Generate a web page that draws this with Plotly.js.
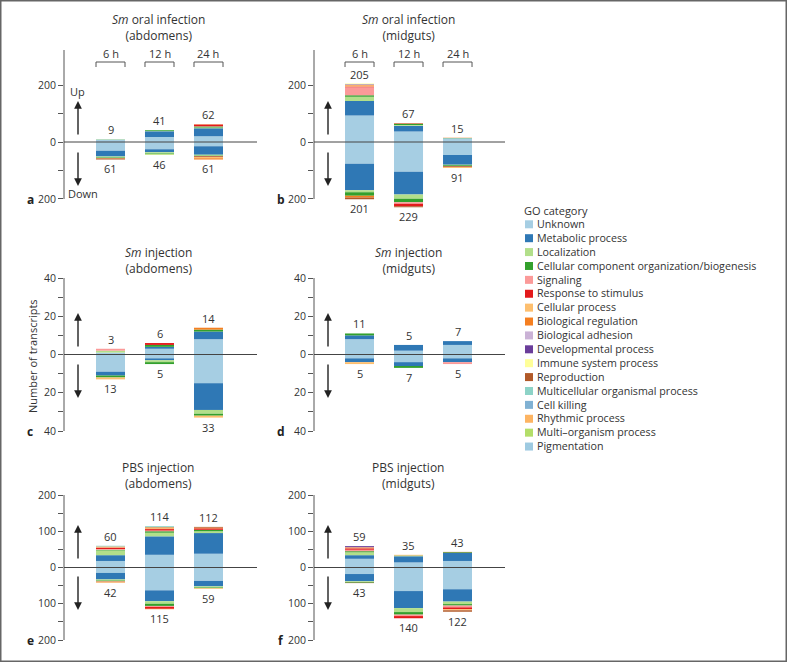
<!DOCTYPE html>
<html><head><meta charset="utf-8">
<script src="https://cdn.plot.ly/plotly-3.0.1.min.js"></script>
<style>html,body{margin:0;padding:0;background:#fff}#chart{width:787px;height:662px}</style>
</head><body><div id="chart"></div>
<script>
const times = ['6 h', '12 h', '24 h'];
const categories = ['Unknown', 'Metabolic process', 'Localization', 'Cellular component organization/biogenesis',
  'Signaling', 'Response to stimulus', 'Cellular process', 'Biological regulation', 'Biological adhesion',
  'Developmental process', 'Immune system process', 'Reproduction', 'Multicellular organismal process',
  'Cell killing', 'Rhythmic process', 'Multi\u2013organism process', 'Pigmentation'];
const colors = ['#a6cee3', '#2f78b5', '#b2df8a', '#33a02c', '#fb9a99', '#e31a1c', '#fdbf6f', '#f57f20',
  '#cab2d6', '#6a3d9a', '#ffff99', '#b15928', '#8dd3c7', '#80b1d3', '#fdb462', '#b3de69', '#9ecae1'];
const Z = [0, 0, 0];

// rows follow the category order; columns are 6 h, 12 h, 24 h
const aUp = [[8,18,20],[0,20,28],[0,1,3],[1,2,3],[0,0,1],[0,0,6],Z,[0,0,1],Z,Z,Z,Z,Z,Z,Z,Z,Z];
const aDown = [[31,25,15],[20,11,30],[3,4,3],[2,3,3],Z,[0,0,2],[0,0,4],[2,0,4],Z,Z,[0,1,0],[3,0,0],Z,Z,Z,[0,2,0],Z];
const bUp = [[93,37,13],[51,20,0],[15,3,0],[5,3,1],[28,0,0],[3,1,0],[3,1,0],[2,0,1],[1,0,0],[2,0,0],[2,0,0],[0,2,0],Z,Z,Z,Z,Z];
const bDown = [[76,104,46],[93,80,34],[7,15,2],[13,12,4],[0,6,0],[0,8,2],[0,0,3],[6,0,0],Z,Z,Z,[6,4,0],Z,Z,Z,Z,Z];
const cUp = [[1,3,8],[0,1,4],[1,0,0],[0,1,1],[1,0,0],[0,1,0],Z,[0,0,1],Z,Z,Z,Z,Z,Z,Z,Z,Z];
const cDown = [[9,2,15],[2,1,14],[0,1,2],[1,1,1],Z,Z,[1,0,1],Z,Z,Z,Z,Z,Z,Z,Z,Z,Z];
const dUp = [[8,2,5],[2,3,2],Z,[1,0,0],Z,Z,Z,Z,Z,Z,Z,Z,Z,Z,Z,Z,Z];
const dDown = [[2,4,2],[2,2,2],Z,[0,1,0],[0,0,1],Z,[1,0,0],Z,Z,Z,Z,Z,Z,Z,Z,Z,Z];
const eUp = [[18,35,38],[16,51,57],[13,10,5],[2,4,4],[2,2,0],[4,4,4],[2,2,0],[1,3,2],Z,Z,Z,[0,0,2],[2,3,0],Z,Z,Z,Z];
const eDown = [[15,63,37],[18,30,15],[3,7,3],[2,6,2],[0,3,0],[1,5,0],[2,0,2],[1,1,0],Z,Z,Z,Z,Z,Z,Z,Z,Z];
const fUp = [[24,14,18],[10,17,22],[8,1,0],[3,1,2],[4,0,0],[4,0,0],[2,2,0],[1,0,0],Z,[3,0,0],Z,[0,0,1],Z,Z,Z,Z,Z];
const fDown = [[18,65,60],[20,47,34],[2,11,7],[2,7,4],[0,4,5],[0,6,5],[0,0,3],Z,Z,Z,Z,[1,0,4],Z,Z,Z,Z,Z];

const aUpTotal = [9, 41, 62],    aDownTotal = [61, 46, 61];
const bUpTotal = [205, 67, 15],  bDownTotal = [201, 229, 91];
const cUpTotal = [3, 6, 14],     cDownTotal = [13, 5, 33];
const dUpTotal = [11, 5, 7],     dDownTotal = [5, 7, 5];
const eUpTotal = [60, 114, 112], eDownTotal = [42, 115, 59];
const fUpTotal = [59, 35, 43],   fDownTotal = [43, 140, 122];

const panelTitles = [['<i>Sm</i> oral infection', '(abdomens)'], ['<i>Sm</i> oral infection', '(midguts)'],
  ['<i>Sm</i> injection', '(abdomens)'], ['<i>Sm</i> injection', '(midguts)'],
  ['PBS injection', '(abdomens)'], ['PBS injection', '(midguts)']];
const panelLetters = ['a', 'b', 'c', 'd', 'e', 'f'];
const tickSets = [
  {vals: [-200, -100, 0, 100, 200], text: ['200', '', '0', '', '200'], lineFrom: -200, lineTo: 323},
  {vals: [-40, -30, -20, -10, 0, 10, 20, 30, 40], text: ['40', '', '20', '', '0', '', '20', '', '40'], lineFrom: -40, lineTo: 40},
  {vals: [-200, -150, -100, -50, 0, 50, 100, 150, 200], text: ['200', '', '100', '', '0', '', '100', '', '200'], lineFrom: -200, lineTo: 200}
];

// ---------- geometry ----------
const W = 787, H = 662;
const px = x => x / W, py = y => 1 - y / H;
const FONT = 'Open Sans, Noto Sans, sans-serif';
const TXT = '#333';
const cols = [
  {dom: [64, 257], range: [-0.949, 2.99], titleX: 158, arrowX: 78, letterX: 30},
  {dom: [314, 505], range: [-0.929, 2.969], titleX: 408, arrowX: 328, letterX: 281}
];
// zero pixel and pixels-per-unit for each row; range extends a bit below the drawn axis line
const rows = [
  {zero: 142, ppu: 0.285, range: [-240, 323], letterY: 199, titleY: 27, up: [101, 136], down: [186, 151], ticks: 0},
  {zero: 354.5, ppu: 1.9125, range: [-40, 40], letterY: 431, titleY: 260.5, up: [313, 348], down: [398, 363], ticks: 1},
  {zero: 567.5, ppu: 0.3625, range: [-200, 200], letterY: 640, titleY: 475.5, up: [525, 560], down: [610, 575], ticks: 2}
];
const panelData = [
  [aUp, aDown, aUpTotal, aDownTotal], [bUp, bDown, bUpTotal, bDownTotal],
  [cUp, cDown, cUpTotal, cDownTotal], [dUp, dDown, dUpTotal, dDownTotal],
  [eUp, eDown, eUpTotal, eDownTotal], [fUp, fDown, fUpTotal, fDownTotal]
];
const BARW = 0.592;

const traces = [];
const layout = {
  width: W, height: H, margin: {l: 0, r: 0, t: 0, b: 0},
  paper_bgcolor: '#fff', plot_bgcolor: 'rgba(0,0,0,0)',
  barmode: 'relative', showlegend: false, hovermode: false,
  font: {family: FONT, size: 11, color: TXT},
  annotations: [], shapes: []
};
const A = layout.annotations, S = layout.shapes;
function note(x, y, text, font, extra) {
  return Object.assign({xref: 'paper', yref: 'paper', x: px(x), y: py(y), text: text, showarrow: false,
    xanchor: 'center', yanchor: 'middle', font: Object.assign({size: 11, color: TXT}, font || {})}, extra || {});
}

panelData.forEach((pd, p) => {
  const [up, down, upT, downT] = pd;
  const col = cols[p % 2], row = rows[Math.floor(p / 2)];
  const n = p + 1, xs = n === 1 ? '' : String(n);
  const xa = 'x' + xs, ya = 'y' + xs;
  const bottomPx = row.zero - row.range[0] * row.ppu, topPx = row.zero - row.range[1] * row.ppu;
  layout['xaxis' + xs] = {
    domain: [px(col.dom[0]), px(col.dom[1])], range: col.range, type: 'category',
    categoryorder: 'array', categoryarray: times,
    showline: false, showgrid: false, zeroline: false, showticklabels: false, ticks: '', anchor: ya, fixedrange: true
  };
  const tk = tickSets[row.ticks];
  layout['yaxis' + xs] = {
    domain: [py(bottomPx), py(topPx)], range: row.range, anchor: xa,
    showline: false, ticks: 'outside', ticklen: 5, tickcolor: '#555', tickwidth: 1,
    tickmode: 'array', tickvals: tk.vals, ticktext: tk.text, tickfont: {size: 10.5, color: TXT, family: FONT},
    showgrid: false, zeroline: false, fixedrange: true
  };
  // axis line (drawn only over the labelled span)
  S.push({type: 'line', xref: xa + ' domain', yref: ya, x0: 0, x1: 0, y0: tk.lineFrom, y1: tk.lineTo, line: {color: '#555', width: 1}});
  categories.forEach((c, k) => {
    if (up[k].some(v => v > 0)) traces.push({type: 'bar', x: times, y: up[k], xaxis: xa, yaxis: ya, cliponaxis: false,
      width: BARW, marker: {color: colors[k], line: {width: 0}}, name: c});
    if (down[k].some(v => v > 0)) traces.push({type: 'bar', x: times, y: down[k].map(v => -v), xaxis: xa, yaxis: ya, cliponaxis: false,
      width: BARW, marker: {color: colors[k], line: {width: 0}}, name: c});
  });
  // zero line
  S.push({type: 'line', xref: xa + ' domain', yref: ya, x0: 0, x1: 1, y0: 0, y1: 0, line: {color: '#444', width: 1}, layer: 'above'});
  // totals
  times.forEach((t, i) => {
    A.push({xref: xa, yref: ya, x: t, y: upT[i], text: String(upT[i]), showarrow: false, xanchor: 'center', yanchor: 'bottom', font: {size: 11, color: TXT}});
    A.push({xref: xa, yref: ya, x: t, y: -downT[i], text: String(downT[i]), showarrow: false, xanchor: 'center', yanchor: 'top', font: {size: 11, color: TXT}});
  });
  // two-line title
  A.push(note(col.titleX, row.titleY, panelTitles[p][0] + '<br>' + panelTitles[p][1], {size: 12}));
  // panel letter
  A.push(note(col.letterX, row.letterY, '<b>' + panelLetters[p] + '</b>', {size: 12, color: '#222'}));
  // arrows
  A.push(note(col.arrowX, row.up[0], '', {}, {showarrow: true, ax: 0, ay: row.up[1] - row.up[0],
    arrowhead: 2, arrowsize: 1.1, arrowwidth: 1.4, arrowcolor: '#222'}));
  A.push(note(col.arrowX, row.down[0], '', {}, {showarrow: true, ax: 0, ay: row.down[1] - row.down[0],
    arrowhead: 2, arrowsize: 1.1, arrowwidth: 1.4, arrowcolor: '#222'}));
  // time brackets on the top row
  if (row.ticks === 0) {
    times.forEach((t, i) => {
      A.push({xref: xa, yref: 'paper', x: t, y: py(54), text: t, showarrow: false, xanchor: 'center', yanchor: 'middle', font: {size: 11, color: TXT}});
      const l = i - BARW / 2, r = i + BARW / 2;
      S.push({type: 'line', xref: xa, yref: 'paper', x0: l, x1: r, y0: py(62), y1: py(62), line: {color: '#555', width: 1}});
      S.push({type: 'line', xref: xa, yref: 'paper', x0: l, x1: l, y0: py(62), y1: py(67), line: {color: '#555', width: 1}});
      S.push({type: 'line', xref: xa, yref: 'paper', x0: r, x1: r, y0: py(62), y1: py(67), line: {color: '#555', width: 1}});
    });
  }
});

// Up / Down labels (panel a)
A.push(note(77, 91, 'Up'));
A.push(note(83, 193, 'Down'));
// y-axis title
A.push(note(32, 356, 'Number of transcripts', {}, {textangle: -90}));

// legend
const LEG_Y0 = 224.3, LEG_DY = 13.89;
A.push(note(522, 211, 'GO category', {}, {xanchor: 'left'}));
categories.forEach((c, k) => {
  const cy = LEG_Y0 + LEG_DY * k;
  S.push({type: 'rect', xref: 'paper', yref: 'paper', x0: px(525), x1: px(533), y0: py(cy + 4), y1: py(cy - 4),
    fillcolor: colors[k], line: {width: 0}});
});
A.push(note(535, LEG_Y0 + LEG_DY * (categories.length - 1) / 2, categories.join('<br>'),
  {size: LEG_DY / 1.3}, {xanchor: 'left', align: 'left'}));

// frame
S.push({type: 'rect', xref: 'paper', yref: 'paper', x0: 0, x1: 1, y0: 0, y1: 1, line: {color: '#666', width: 3}});

Plotly.newPlot('chart', traces, layout, {staticPlot: true, displayModeBar: false});
</script></body></html>
